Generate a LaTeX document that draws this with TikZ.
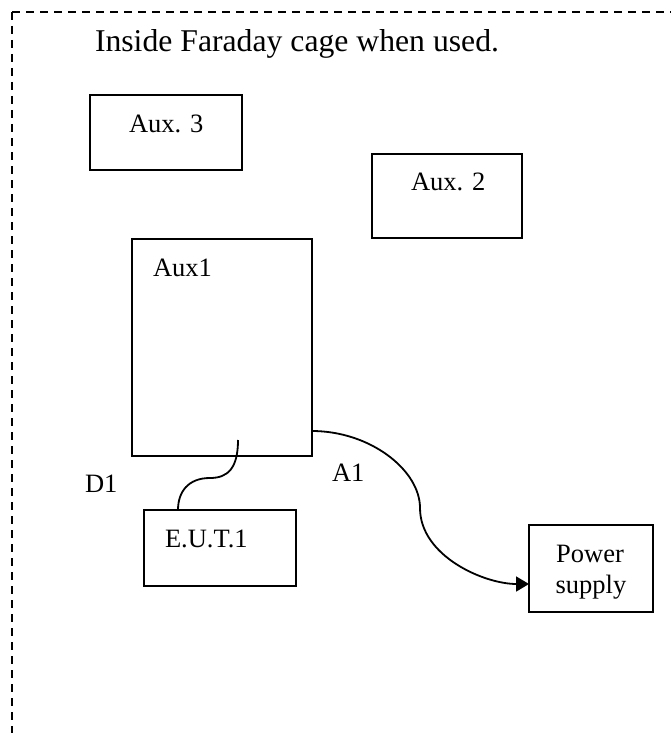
\documentclass[tikz,border=0pt]{standalone}
\usepackage{fontspec}
\setmainfont{Liberation Serif}
\usetikzlibrary{arrows.meta,calc}
\begin{document}
\begin{tikzpicture}[x=1pt,y=-1pt,
  box/.style={draw,line width=2pt,inner sep=0pt,outer sep=0pt,rectangle},
  lbl/.style={inner sep=0pt,outer sep=0pt,anchor=base west,font=\fontsize{26.5}{31}\selectfont},
  ttl/.style={inner sep=0pt,outer sep=0pt,anchor=base west,font=\fontsize{31.7}{38}\selectfont},
  cable/.style={line width=1.8pt},
  frame/.style={line width=1.8pt,dash pattern=on 8pt off 6pt}]
\useasboundingbox (0,0) rectangle (671,733);
% frame
\coordinate (fc) at (12,12);
\coordinate (fr) at (671,12);
\coordinate (fb) at (12,733);
\draw[frame] (fc) -- (fr);
\draw[frame] (fc) -- (fb);
\node[ttl] (title) at (95,52) {Inside Faraday cage when used.};
% boxes
\node[box,minimum width=152pt,minimum height=75pt] (aux3) at (166,132.5) {};
\node[box,minimum width=150pt,minimum height=84pt] (aux2) at (447,196) {};
\node[box,minimum width=180pt,minimum height=217pt] (aux1) at (222,347.5) {};
\node[box,minimum width=152pt,minimum height=76pt] (eut) at (220,548) {};
\node[box,minimum width=124pt,minimum height=87pt] (ps) at (591,568.5) {};
% labels
\node[lbl] (taux3) at (129,132) {Aux. 3};
\node[lbl] (taux2) at (411,190) {Aux. 2};
\node[lbl] (taux1) at (153,276) {Aux1};
\node[lbl] (teut) at (165,547) {E.U.T.1};
\node[lbl,anchor=base] (tps1) at (590,562) {Power};
\node[lbl,anchor=base] (tps2) at (591,593) {supply};
\node[lbl] (td1) at (85,492) {D1};
\node[lbl] (ta1) at (332,481) {A1};
% cables
\coordinate (d1s) at (238,440);
\coordinate (d1e) at ($(eut.north west)+(34,0)$);
\coordinate (a1s) at ($(aux1.north east)+(0,192)$);
\coordinate (a1e) at ($(ps.north west)+(0,59)$);
\draw[cable] (d1s) .. controls ++(0,28) and ++(18,0) .. (210,478)
  .. controls ++(-22,0) and ++(0,-18) .. (d1e);
\draw[cable,-{Triangle[length=13pt,width=15pt]}] (a1s) .. controls ++(58,0) and ++(0,-38) .. (420,508)
  .. controls ++(0,48) and ++(-45,0) .. (a1e);
\end{tikzpicture}
\end{document}
